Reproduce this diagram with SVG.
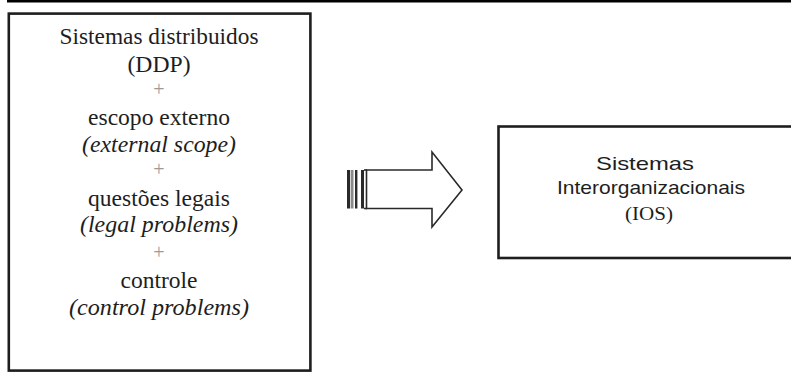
<svg xmlns="http://www.w3.org/2000/svg" width="791" height="376" viewBox="0 0 791 376">
<style>
.box{fill:#fff;stroke:#1e1e1e;stroke-width:2.6}
.serif{fill:#1e1e1e;text-anchor:middle}
.it{font-style:italic}
.plus{fill:#9a9a9a;text-anchor:middle;font-size:20px}
.sans{fill:#1e1e1e;text-anchor:middle}
.arrow{fill:#fff;stroke:#2a2a2a;stroke-width:1.6;stroke-linejoin:miter}
</style>
<rect x="0" y="0" width="791" height="376" fill="#fff"/>
<rect x="7" y="0" width="784" height="2.5" fill="#000"/>
<g id="node-left" font-family="'Liberation Serif', 'DejaVu Serif', serif">
<rect class="box" x="8.8" y="13.6" width="301.6" height="357"/>
<text class="serif" x="159" y="44" font-size="22.5" textLength="199" lengthAdjust="spacingAndGlyphs">Sistemas distribuidos</text>
<text class="serif" x="159" y="72" font-size="22.5" textLength="63" lengthAdjust="spacingAndGlyphs">(DDP)</text>
<text class="plus" x="159" y="96">+</text>
<text class="serif" x="159" y="125" font-size="22.5" textLength="142" lengthAdjust="spacingAndGlyphs">escopo externo</text>
<text class="serif it" x="159" y="152" font-size="22.5" textLength="154" lengthAdjust="spacingAndGlyphs">(external scope)</text>
<text class="plus" x="159" y="176">+</text>
<text class="serif" x="159" y="206" font-size="22.5" textLength="142" lengthAdjust="spacingAndGlyphs">questões legais</text>
<text class="serif it" x="159" y="232" font-size="22.5" textLength="158" lengthAdjust="spacingAndGlyphs">(legal problems)</text>
<text class="plus" x="159" y="258.5">+</text>
<text class="serif" x="159" y="288" font-size="22.5" textLength="77" lengthAdjust="spacingAndGlyphs">controle</text>
<text class="serif it" x="159" y="315" font-size="22.5" textLength="180" lengthAdjust="spacingAndGlyphs">(control problems)</text>
</g>
<g id="connectors">
<polygon class="arrow" points="366.5,170 432,170 432,152 462,190 432,227 432,208.5 366.5,208.5"/>
<rect x="347" y="170" width="3.2" height="38.5" fill="#2a2a2a"/>
<rect x="351" y="170" width="2.5" height="38.5" fill="#8a8a8a"/>
<rect x="355" y="170" width="2.4" height="38.5" fill="#2a2a2a"/>
<rect x="361" y="170" width="3" height="38.5" fill="#2a2a2a"/>
<line x1="364" y1="170" x2="367" y2="170" stroke="#2a2a2a" stroke-width="1.6"/>
<line x1="364" y1="208.5" x2="367" y2="208.5" stroke="#2a2a2a" stroke-width="1.6"/>
</g>
<g id="node-right">
<rect class="box" x="498.5" y="126.5" width="300" height="131.5"/>
<text class="sans" font-family="'Liberation Sans', Arial, sans-serif" x="645" y="170" font-size="19" textLength="98" lengthAdjust="spacingAndGlyphs">Sistemas</text>
<text class="sans" font-family="'Liberation Sans', Arial, sans-serif" x="651" y="194" font-size="19" textLength="188" lengthAdjust="spacingAndGlyphs">Interorganizacionais</text>
<text class="serif" font-family="'Liberation Serif', 'DejaVu Serif', serif" x="649" y="220" font-size="19" textLength="48" lengthAdjust="spacingAndGlyphs">(IOS)</text>
</g>
</svg>
